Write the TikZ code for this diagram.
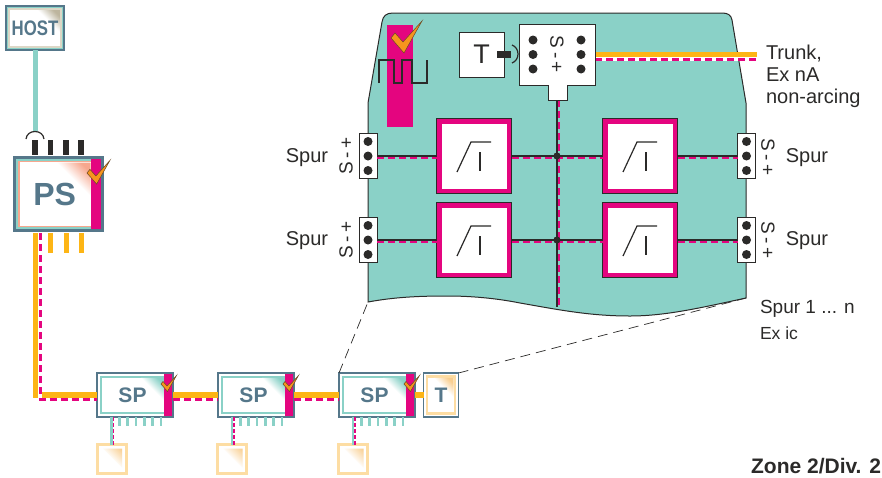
\documentclass[tikz,border=0pt]{standalone}
\usepackage{fontspec}
\setmainfont{Liberation Sans}
\usetikzlibrary{positioning}

\definecolor{panelteal}{HTML}{8AD1C7}
\definecolor{steelblue}{HTML}{55778A}
\definecolor{hotpink}{HTML}{E4057F}
\definecolor{trunkorange}{HTML}{FDB515}
\definecolor{tickorange}{HTML}{F7941D}
\definecolor{salmon}{HTML}{F7A78E}
\definecolor{beige}{HTML}{DCD7C6}
\definecolor{sandshade}{HTML}{BDB59E}
\definecolor{paleorange}{HTML}{FDDDA3}
\definecolor{paleshade}{HTML}{F8CE90}
\definecolor{ink}{HTML}{2B2A29}

\newcommand{\boxring}[3]{\draw[#1,line width=#3pt] ([shift={(#2,#2)}]path picture bounding box.north west) rectangle ([shift={(-#2,-#2)}]path picture bounding box.south east);}
\newcommand{\boxcorner}[4]{\shade[top color=#4,bottom color=white,middle color=white,shading angle=-45] ([shift={(-#1,#2)}]path picture bounding box.north east) -- ++(-#3,0) -- ++(#3,#3) -- cycle;}
\newcommand{\boxbar}[1]{\fill[hotpink] (path picture bounding box.north east) rectangle ([xshift=-#1pt]path picture bounding box.south east);}

\tikzset{
  every node/.style={outer sep=0pt,inner sep=0pt,text=ink},
  hostbox/.style={draw=steelblue,line width=1.8pt,fill=white,minimum width=58,minimum height=44,text=steelblue,font=\fontsize{21}{21}\selectfont\bfseries,
    path picture={\boxring{panelteal}{1.6}{1.4}\boxring{beige}{3.2}{1.8}\boxcorner{4.2}{4.2}{22}{sandshade}}},
  psbox/.style={draw=steelblue,line width=2.7pt,fill=white,minimum width=88,minimum height=73,text=steelblue,font=\fontsize{32}{32}\selectfont\bfseries,
    path picture={\boxring{panelteal}{2.2}{2.2}\boxring{salmon}{4}{1.6}\boxcorner{12}{5}{34}{salmon}\boxbar{12}}},
  spbox/.style={draw=steelblue,line width=1.5pt,fill=white,minimum width=76,minimum height=44,text=steelblue,font=\fontsize{21}{21}\selectfont\bfseries,
    path picture={\boxring{panelteal}{4}{1.5}\boxcorner{9}{4.8}{23}{panelteal}\boxbar{9}}},
  endbox/.style={draw=steelblue,line width=1.5pt,fill=white,minimum width=35,minimum height=44,text=steelblue,font=\fontsize{21}{21}\selectfont\bfseries,
    path picture={\boxring{paleorange}{3.5}{2.5}\boxcorner{4.8}{4.8}{20}{paleshade}}},
  devbox/.style={draw=paleorange,line width=3pt,fill=white,minimum width=29,minimum height=29,
    path picture={\boxcorner{4}{4}{19}{paleshade}}},
  ampbox/.style={draw=ink,line width=1pt,fill=hotpink,minimum width=75,minimum height=75,
    path picture={\fill[white] ([shift={(5,5)}]path picture bounding box.north west) rectangle ([shift={(-5,-5)}]path picture bounding box.south east);
      \draw[ink,line width=1.2pt] ([shift={(-17,16)}]path picture bounding box.center) -- ++(14,-30) -- ++(20,0);
      \draw[ink,line width=2pt] ([shift={(6,-4)}]path picture bounding box.center) -- ++(0,19);}},
  termbox/.style={draw=ink,line width=1pt,fill=white,minimum width=18,minimum height=45,
    path picture={\foreach \d in {-14.5,0,14.5} \fill[ink] ([yshift=\d pt]path picture bounding box.center) circle[radius=4.5pt];}},
  tbox/.style={draw=ink,line width=1pt,fill=white,minimum width=45,minimum height=45,font=\fontsize{27}{27}\selectfont},
  junction/.style={circle,fill=ink,minimum size=7},
  label/.style={font=\fontsize{20}{22}\selectfont,align=left},
  polarity/.style={font=\fontsize{19}{19}\selectfont},
  trunkline/.style={trunkorange,line width=5.5pt},
  dashback/.style={white,line width=3.4pt},
  dashpink/.style={hotpink,line width=3pt,dash pattern=on 7pt off 4pt},
  sigline/.style={ink,line width=1.2pt},
  sigdash/.style={hotpink,line width=2pt,dash pattern=on 7pt off 4pt},
  stubline/.style={panelteal,line width=2.6pt},
  stubdash/.style={hotpink,line width=1.6pt,dash pattern=on 4pt off 2pt},
  zoomline/.style={ink,line width=.7pt,dash pattern=on 10pt off 6pt},
  tick/.pic={\filldraw[fill=tickorange,draw=ink!70!tickorange,line width=.5pt] (0,0) -- (4,-5) -- (12,4) -- (31,-17) -- (13,15) -- cycle;}
}
\newcommand{\polmark}{S\kern3.5pt-\kern3.5pt+}

\begin{document}
\begin{tikzpicture}[x=1pt,y=-1pt]
  \useasboundingbox (0,0) rectangle (882,477);

  \filldraw[fill=panelteal,draw=ink,line width=1pt] (393,13) -- (722,13) .. controls (728,13) and (731,15) .. (732,20) -- (746,103) -- (746,298)
    .. controls (700,308) and (665,316) .. (630,316) .. controls (590,316) and (560,310) .. (520,303)
    .. controls (495,298) and (470,296) .. (447,296) .. controls (420,296) and (395,297) .. (368,302)
    -- (368,103) -- (382,22) .. controls (383,16) and (386,13) .. (393,13) -- cycle;
  \coordinate (panelsw) at (368,302);
  \coordinate (panelse) at (746,298);
  \coordinate (panelmid) at (557,307);
  \coordinate (trunkend) at (757,54.5);

  \node[hostbox] (host) at (35,28) {\scalebox{.8}[1]{HOST}};
  \node[psbox]   (ps)   at (58.7,194) {\hspace{-8pt}PS};
  \coordinate (hostarc) at (35,131);
  \draw[panelteal,line width=5pt] (host.south) -- (hostarc);
  \draw[ink,line width=1.2pt] (26,139) .. controls (27,129) and (43,129) .. (44,139);
  \foreach \x in {35,50.7,66,81} {
    \draw[ink,line width=5.2pt] (\x,140) -- (\x,155);
    \draw[trunkorange,line width=5pt] (\x,233) -- (\x,253);
  }

  \node[spbox]  (sp1) at (135,395) {\hspace{-5pt}SP};
  \node[spbox]  (sp2) at (256,395) {\hspace{-5pt}SP};
  \node[spbox]  (sp3) at (377,395) {\hspace{-5pt}SP};
  \node[endbox] (tend) at (441,395) {T};
  \node[devbox] (dev1) at (111.5,459) {};
  \node[devbox] (dev2) at (232,459) {};
  \node[devbox] (dev3) at (353,459) {};

  \draw[trunkline] (35.5,233) |- (sp1.west);
  \draw[dashback] (40,233) |- ([yshift=-4.5pt]sp1.west);
  \draw[dashpink] (40,233) |- ([yshift=-4.5pt]sp1.west);
  \foreach \a/\b in {sp1/sp2,sp2/sp3} {
    \draw[trunkline] (\a.east) -- (\b.west);
    \draw[dashback] ([yshift=-4.5pt]\a.east) -- ([yshift=-4.5pt]\b.west);
    \draw[dashpink] ([yshift=-4.5pt]\a.east) -- ([yshift=-4.5pt]\b.west);
  }
  \draw[trunkline] (sp3.east) -- (tend.west);

  \foreach \n in {1,2,3} {
    \draw[stubline] (dev\n.north) -- (dev\n.north |- sp\n.south);
    \draw[stubdash] ([xshift=2pt]dev\n.north) -- ([xshift=2pt]dev\n.north |- sp\n.south);
    \foreach \o in {-15.7,-7.3,1,9.3,17.7,26}
      \draw[stubline] ([xshift=\o pt]sp\n.south) -- ++(0,9);
  }

  \draw[zoomline] (sp3.north west) -- (panelsw);
  \draw[zoomline] (tend.north east) -- (panelse);

  \fill[hotpink] (387,25) rectangle (413,127);
  \draw[ink,line width=1.3pt] (379,83) -- (379,60) -- (394,60) -- (394,83) -- (402,83) -- (402,60) -- (412,60) -- (412,83) -- (427,83) -- (427,60);

  \node[ampbox] (amp1) at (474,156) {};
  \node[ampbox] (amp2) at (474,240) {};
  \node[ampbox] (amp3) at (640,156) {};
  \node[ampbox] (amp4) at (640,240) {};
  \node[termbox] (spl1) at (368,156) {};
  \node[termbox] (spl2) at (368,240) {};
  \node[termbox] (spr1) at (746.5,156) {};
  \node[termbox] (spr2) at (746.5,240) {};
  \node[tbox] (tnode) at (481.5,54.5) {T};
  \node[minimum width=76,minimum height=61] (bus) at (557,54.5) {};
  \coordinate (bustab) at (557,100);
  \node[junction] (junc1) at (557,156) {};
  \node[junction] (junc2) at (557,240) {};

  \draw[sigline] (bustab) -- (panelmid);
  \draw[sigdash] ([xshift=2pt]bustab) -- ([xshift=2pt]panelmid);
  \foreach \a/\b in {spl1/amp1,amp1/amp3,amp3/spr1,spl2/amp2,amp2/amp4,amp4/spr2} {
    \draw[sigdash] ([yshift=-2pt]\a.east) -- ([yshift=-2pt]\b.west);
    \draw[sigline] (\a.east) -- (\b.west);
  }
  \node[junction] at (junc1) {};
  \node[junction] at (junc2) {};

  \draw[trunkline] (bus.east) -- (trunkend);
  \draw[dashback] ([yshift=-4.5pt]bus.east) -- ([yshift=-4.5pt]trunkend);
  \draw[dashpink] ([yshift=-4.5pt]bus.east) -- ([yshift=-4.5pt]trunkend);

  \draw[ink,line width=1pt,fill=white] (bus.north west) -- (bus.north east) -- (bus.south east) -- ++(-28,0) -- ++(0,15) -- ++(-19,0) -- ++(0,-15) -- (bus.south west) -- cycle;
  \foreach \x in {-24,24} \foreach \y in {-14.5,0,14.5}
    \fill[ink] ([shift={(\x,\y)}]bus.center) circle[radius=4.5pt];
  \node[polarity,rotate=-90] (buspol) at (bus.center) {\polmark};

  \fill[ink] (497,51) rectangle (511,58);
  \draw[ink,line width=1.2pt] (512,45) .. controls (520,48) and (520,60) .. (512,63);

  \node[polarity,rotate=90]  (poll1) at (346,156) {\polmark};
  \node[polarity,rotate=90]  (poll2) at (346,240) {\polmark};
  \node[polarity,rotate=-90] (polr1) at (768,157) {\polmark};
  \node[polarity,rotate=-90] (polr2) at (768,240) {\polmark};
  \node[label] (spurl1) at (307,158) {Spur};
  \node[label] (spurl2) at (307,241) {Spur};
  \node[label] (spurr1) at (807,158) {Spur};
  \node[label] (spurr2) at (807,241) {Spur};
  \node[label,anchor=north west] (trunk) at (766,45) {Trunk,\\Ex nA\\non-arcing};
  \node[anchor=west,font=\fontsize{19}{19}\selectfont] (spurn) at (760,309) {Spur 1 ... n};
  \node[anchor=west,font=\fontsize{17.5}{18}\selectfont] (exic) at (760,333) {Ex ic};
  \node[anchor=east,font=\fontsize{21}{21}\selectfont\bfseries] (zone) at (881,466) {Zone 2/Div. 2};

  \pic[scale=.74] at (87,173) {tick};
  \pic[scale=1]   at (391,38) {tick};
  \pic[scale=.5]  at (161,384) {tick};
  \pic[scale=.5]  at (283,384) {tick};
  \pic[scale=.5]  at (404,384) {tick};
\end{tikzpicture}
\end{document}
